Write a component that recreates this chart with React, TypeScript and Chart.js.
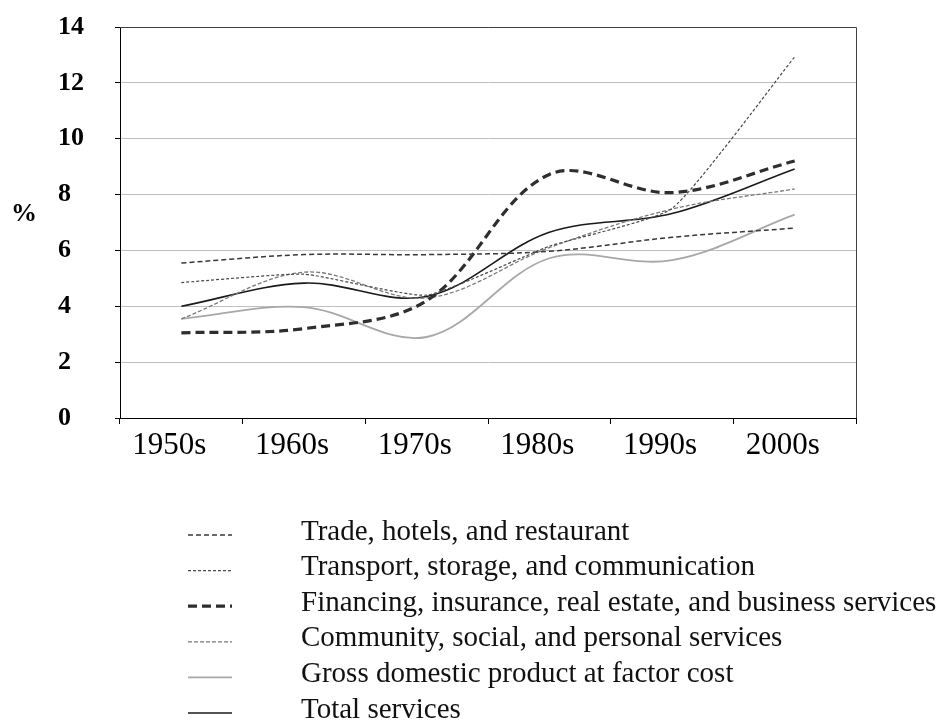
import React, { useEffect, useRef } from "react";
import { Chart, registerables } from "chart.js";

Chart.register(...registerables);

const decades = ["1950s", "1960s", "1970s", "1980s", "1990s", "2000s"];
const yTicks = [0, 2, 4, 6, 8, 10, 12, 14];

const tradeHotels = [5.55, 5.85, 5.85, 5.97, 6.47, 6.8];
const transportComm = [4.85, 5.15, 4.4, 6.15, 7.5, 12.93];
const financing = [3.05, 3.2, 4.2, 8.72, 8.07, 9.2];
const community = [3.55, 5.22, 4.3, 6.1, 7.48, 8.2];
const gdpFactorCost = [3.55, 3.97, 2.9, 5.72, 5.65, 7.28];
const totalServices = [4.0, 4.83, 4.35, 6.65, 7.32, 8.92];

const serif = "'Liberation Serif', 'Times New Roman', Times, serif";

const sideDecor = {
  id: "sideDecor",
  afterDraw(chart: any) {
    const ctx = chart.ctx;
    const a = chart.chartArea;
    ctx.save();
    ctx.strokeStyle = "#404040";
    ctx.lineWidth = 1;
    ctx.setLineDash([]);
    ctx.beginPath();
    ctx.moveTo(a.left, a.top + 0.5);
    ctx.lineTo(a.right + 0.5, a.top + 0.5);
    ctx.lineTo(a.right + 0.5, a.bottom);
    ctx.stroke();

    ctx.fillStyle = "#000";
    ctx.font = `bold 26px ${serif}`;
    ctx.textAlign = "left";
    ctx.textBaseline = "middle";
    ctx.fillText("%", 11, 214);

    const rowY0 = 535;
    const rowStep = 35.6;
    chart.data.datasets.forEach((ds: any, i: number) => {
      const y = rowY0 + i * rowStep;
      ctx.save();
      ctx.strokeStyle = ds.borderColor;
      ctx.lineWidth = ds.borderWidth;
      ctx.setLineDash(ds.borderDash || []);
      ctx.beginPath();
      ctx.moveTo(188, y);
      ctx.lineTo(232, y);
      ctx.stroke();
      ctx.restore();
      ctx.fillStyle = "#111";
      ctx.font = `29px ${serif}`;
      ctx.textAlign = "left";
      ctx.textBaseline = "middle";
      ctx.fillText(ds.label, 301, y - 3);
    });
    ctx.restore();
  },
};

export default function App() {
  const ref = useRef<HTMLCanvasElement | null>(null);

  useEffect(() => {
    if (!ref.current) return;
    const common = { pointRadius: 0, pointHoverRadius: 0, fill: false };
    const chart = new Chart(ref.current, {
      type: "line",
      data: {
        labels: decades,
        datasets: [
          { label: "Trade, hotels, and restaurant", data: tradeHotels, borderColor: "#383838", borderWidth: 1.5, borderDash: [5, 3], tension: 0.35, ...common },
          { label: "Transport, storage, and communication", data: transportComm, borderColor: "#4a4a4a", borderWidth: 1.2, borderDash: [3, 2], tension: 0.15, ...common },
          { label: "Financing, insurance, real estate, and business services", data: financing, borderColor: "#2e2e2e", borderWidth: 3.2, borderDash: [9, 5], tension: 0.35, ...common },
          { label: "Community, social, and personal services", data: community, borderColor: "#7a7a7a", borderWidth: 1.3, borderDash: [4, 2], tension: 0.35, ...common },
          { label: "Gross domestic product at factor cost", data: gdpFactorCost, borderColor: "#a8a8a8", borderWidth: 1.8, borderDash: [], tension: 0.35, ...common },
          { label: "Total services", data: totalServices, borderColor: "#1a1a1a", borderWidth: 1.6, borderDash: [], tension: 0.35, ...common },
        ],
      },
      options: {
        animation: false,
        responsive: false,
        devicePixelRatio: 1,
        layout: { padding: { left: 58, right: 91, top: 27, bottom: 250 } },
        plugins: { legend: { display: false }, tooltip: { enabled: false }, title: { display: false } },
        scales: {
          x: {
            type: "category",
            offset: true,
            grid: { display: true, drawOnChartArea: false, drawTicks: true, tickLength: 6, color: "#000", tickColor: "#000", offset: true },
            border: { display: true, color: "#000", width: 1 },
            ticks: { color: "#000", font: { family: serif, size: 31 }, labelOffset: -12, padding: 3, maxRotation: 0, autoSkip: false },
            afterFit: (s: any) => { s.height = 52; },
          },
          y: {
            min: 0,
            max: 14,
            afterBuildTicks: (s: any) => { s.ticks = yTicks.map((v) => ({ value: v })); },
            grid: { color: "#c0c0c0", lineWidth: 1, drawTicks: true, tickLength: 5, tickColor: "#000" },
            border: { display: true, color: "#000", width: 1 },
            ticks: { color: "#000", font: { family: serif, size: 26, weight: "bold" }, crossAlign: "far", padding: 8 },
            afterFit: (s: any) => { s.width = 62; },
          },
        },
      },
      plugins: [sideDecor],
    });
    return () => chart.destroy();
  }, []);

  return (
    <div style={{ position: "fixed", left: 0, top: 0, width: 947, height: 720, background: "#fff" }}>
      <canvas ref={ref} width={947} height={720} style={{ width: 947, height: 720, display: "block" }} />
    </div>
  );
}
